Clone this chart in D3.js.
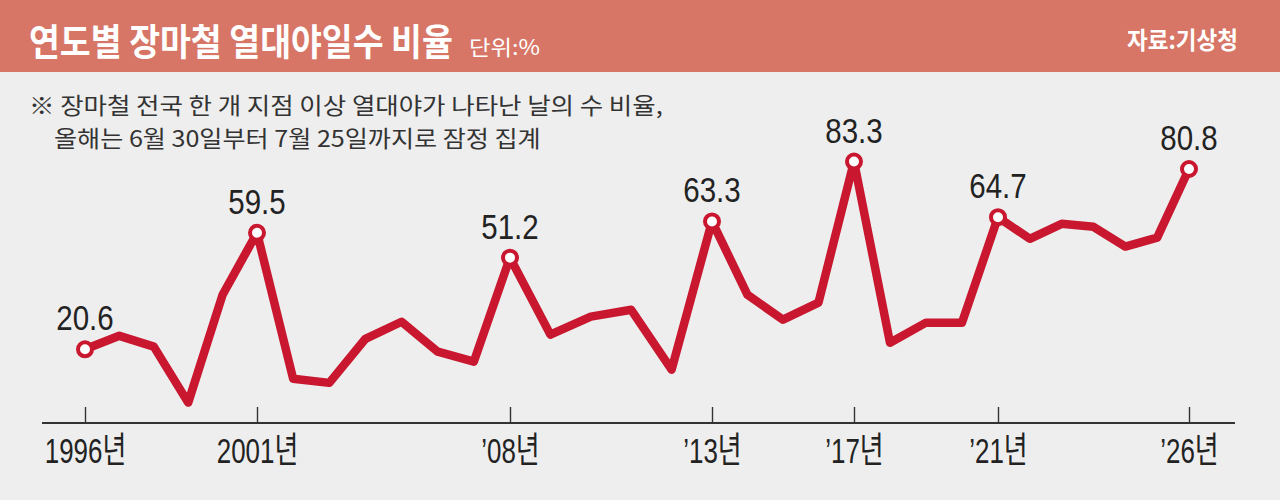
<!DOCTYPE html>
<html>
<head>
<meta charset="utf-8">
<script src="https://cdn.jsdelivr.net/npm/d3@7"></script>
<style>
body { margin: 0; background: #eeeeee; }
svg { display: block; }
</style>
</head>
<body>
<svg id="chart" width="1280" height="500"></svg>
<script>
'use strict';

// 장마철 열대야일수 비율 (%), 1996년~
const values = [
    20.6, 25.1, 21.5, 2.8, 38.8, 59.5,
    10.8, 9.4, 24.1, 29.8, 19.8, 16.5, 51.2,
    25.5, 31.5, 33.8, 13.8, 63.3,
    38.8, 30.5, 36.2, 83.3,
    22.8, 29.5, 29.5, 64.7,
    57.5, 62.5, 61.5, 54.9, 57.9, 80.8
];
const tickIndex = [0, 5, 12, 17, 21, 25, 31];
const tickLabels = ["1996년", "2001년", "’08년", "’13년", "’17년", "’21년", "’26년"];

const title = "연도별 장마철 열대야일수 비율";
const unit = "단위:%";
const source = "자료:기상청";
const notes = [
    "※ 장마철 전국 한 개 지점 이상 열대야가 나타난 날의 수 비율,",
    "올해는 6월 30일부터 7월 25일까지로 잠정 집계"
];

const RED = "#c8172f";
const HEADER = "#d77666";
const KFONT = "'Noto Sans CJK KR', sans-serif";
const NFONT = "'Liberation Sans', 'Noto Sans CJK KR', sans-serif";

// squeeze a text horizontally so it spans `width` px (left or right anchored)
function fitText(svg, str, o) {
    const t = svg.append("text").text(str)
        .attr("font-family", KFONT)
        .attr("font-size", o.size)
        .attr("font-weight", o.bold ? "bold" : "normal")
        .attr("fill", o.fill)
        .attr("text-anchor", o.anchor || "start");
    const k = o.width / t.node().getComputedTextLength();
    t.attr("transform", `translate(${o.x},${o.y}) scale(${k},1)`);
    return t;
}

function main() {
    const svg = d3.select("#chart");

    // header band
    svg.append("rect").attr("x", 0).attr("y", 0).attr("width", 1280).attr("height", 72)
        .attr("fill", HEADER);
    fitText(svg, title, {x: 29, y: 56, size: 37, bold: true, fill: "#fff", width: 424});
    fitText(svg, unit, {x: 469, y: 55, size: 21, fill: "#fff", width: 71});
    fitText(svg, source, {x: 1238, y: 49, size: 24, bold: true, fill: "#fff", width: 111, anchor: "end"});

    // footnote
    fitText(svg, notes[0], {x: 29, y: 114, size: 23, fill: "#333", width: 634});
    fitText(svg, notes[1], {x: 54, y: 147, size: 23, fill: "#333", width: 487});

    // scales: the graphic is hand-spaced, so x is piecewise between labelled years
    const x = d3.scaleLinear()
        .domain(tickIndex)
        .range([85, 257, 510, 712, 854, 998, 1189]);
    const y = d3.scaleLinear().domain([0, 100]).range([411, 111.5]);
    const baseY = 423;

    // axis
    svg.append("line")
        .attr("x1", 42).attr("x2", 1235).attr("y1", baseY).attr("y2", baseY)
        .attr("stroke", "#333").attr("stroke-width", 2.2);

    const axis = d3.axisBottom(x)
        .tickValues(tickIndex)
        .tickFormat((d, i) => tickLabels[i])
        .tickSizeInner(-16).tickSizeOuter(0)
        .tickPadding(14);
    const ag = svg.append("g").attr("transform", `translate(0,${baseY})`).call(axis);
    ag.select(".domain").remove();
    ag.selectAll(".tick line").attr("stroke", "#333").attr("stroke-width", 1.4);
    ag.selectAll(".tick text")
        .attr("font-family", NFONT).attr("font-size", 36).attr("fill", "#222")
        .attr("transform", "scale(0.72,1)");

    // line
    const line = d3.line().x((d, i) => x(i)).y(d => y(d));
    svg.append("path").datum(values)
        .attr("d", line)
        .attr("fill", "none")
        .attr("stroke", RED).attr("stroke-width", 8.5)
        .attr("stroke-linejoin", "round").attr("stroke-linecap", "round");

    // labelled points
    const marked = tickIndex.map(i => ({i, v: values[i]}));
    svg.selectAll(".dot").data(marked).enter().append("circle")
        .attr("class", "dot")
        .attr("cx", d => x(d.i)).attr("cy", d => y(d.v))
        .attr("r", 7)
        .attr("fill", "#fff").attr("stroke", RED).attr("stroke-width", 4);

    svg.selectAll(".val").data(marked).enter().append("g")
        .attr("class", "val")
        .attr("transform", d => `translate(${x(d.i)},${y(d.v) - 19})`)
        .append("text")
        .text(d => d3.format(".1f")(d.v))
        .attr("text-anchor", "middle")
        .attr("font-family", NFONT).attr("font-size", 36).attr("fill", "#222")
        .attr("transform", "scale(0.82,1)");
}

main();
</script>
</body>
</html>
